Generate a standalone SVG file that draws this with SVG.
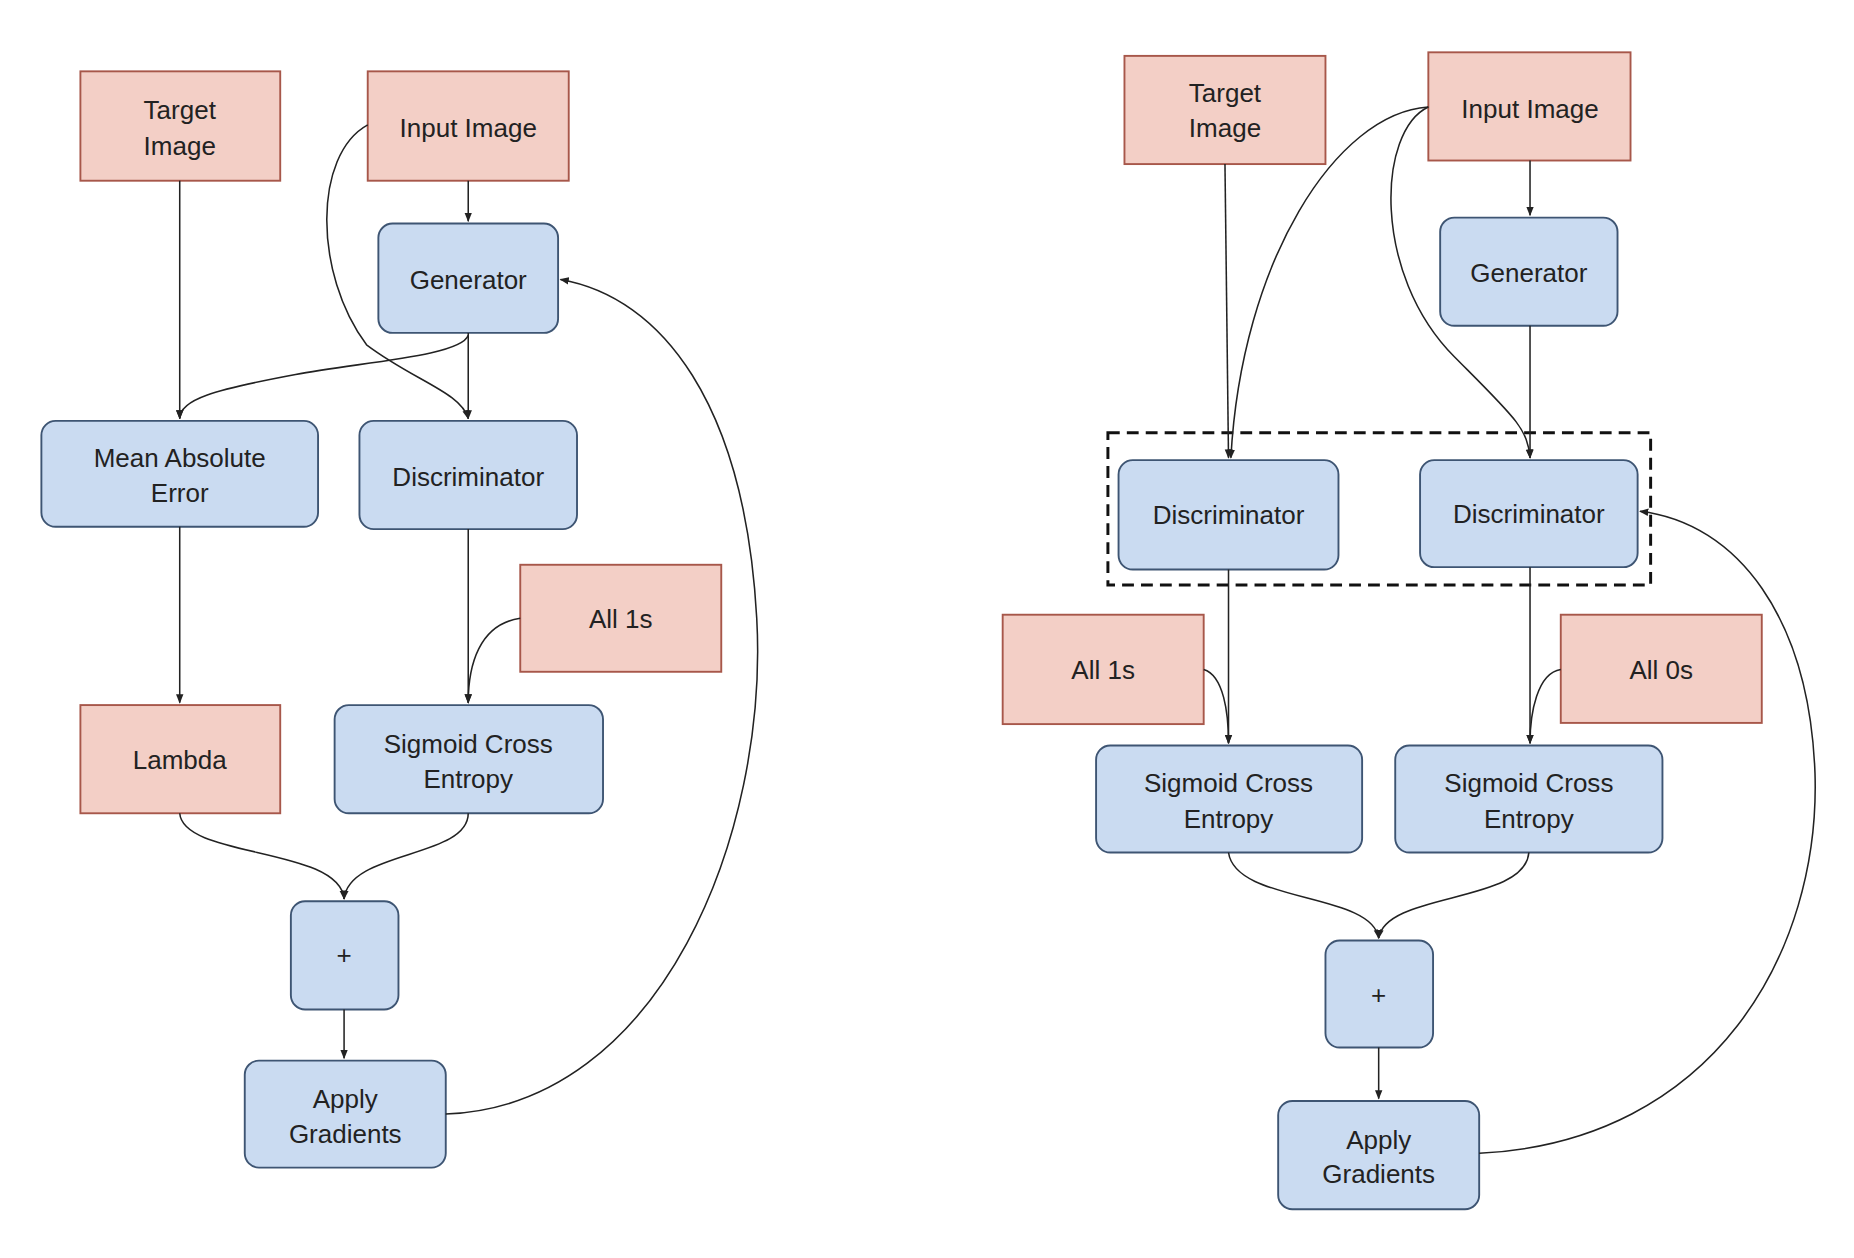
<svg xmlns="http://www.w3.org/2000/svg" width="1854" height="1258" viewBox="0 0 1854 1258">
<style>
.p{fill:#f3cfc6;stroke:#a7574a;stroke-width:1.6}
.b{fill:#cadbf1;stroke:#3e5573;stroke-width:1.6}
.t{font-family:"Liberation Sans",Arial,sans-serif;font-size:22px;fill:#222;text-anchor:middle}
.c path{fill:none;stroke:#222;stroke-width:1.3;marker-end:url(#a)}
</style>
<defs><marker id="a" viewBox="0 0 10 10" refX="9" refY="5" markerWidth="6" markerHeight="6" orient="auto"><path d="M0,1 L10,5 L0,9 z" fill="#222"/></marker></defs>
<rect width="1854" height="1258" fill="#fff"/>
<g transform="scale(1.1824,1.189)">
<g id="L_target"><rect class="p" x="68" y="60" width="169" height="92"/><text class="t" x="152" y="100">Target</text><text class="t" x="152" y="130">Image</text></g>
<g id="L_input"><rect class="p" x="311" y="60" width="170" height="92"/><text class="t" x="396" y="115">Input Image</text></g>
<g id="L_gen"><rect class="b" x="320" y="188" width="152" height="92" rx="12"/><text class="t" x="396" y="243">Generator</text></g>
<g id="L_mae"><rect class="b" x="35" y="354" width="234" height="89" rx="12"/><text class="t" x="152" y="393">Mean Absolute</text><text class="t" x="152" y="422">Error</text></g>
<g id="L_disc"><rect class="b" x="304" y="354" width="184" height="91" rx="12"/><text class="t" x="396" y="409">Discriminator</text></g>
<g id="L_all1"><rect class="p" x="440" y="475" width="170" height="90"/><text class="t" x="525" y="528">All 1s</text></g>
<g id="L_lambda"><rect class="p" x="68" y="593" width="169" height="91"/><text class="t" x="152" y="647">Lambda</text></g>
<g id="L_sce"><rect class="b" x="283" y="593" width="227" height="91" rx="12"/><text class="t" x="396" y="633">Sigmoid Cross</text><text class="t" x="396" y="663">Entropy</text></g>
<g id="L_plus"><rect class="b" x="246" y="758" width="91" height="91" rx="12"/><text class="t" x="291" y="811">+</text></g>
<g id="L_apply"><rect class="b" x="207" y="892" width="170" height="90" rx="12"/><text class="t" x="292" y="932">Apply</text><text class="t" x="292" y="961">Gradients</text></g>

<g id="R_target"><rect class="p" x="951" y="47" width="170" height="91"/><text class="t" x="1036" y="86">Target</text><text class="t" x="1036" y="115">Image</text></g>
<g id="R_input"><rect class="p" x="1208" y="44" width="171" height="91"/><text class="t" x="1294" y="99">Input Image</text></g>
<g id="R_gen"><rect class="b" x="1218" y="183" width="150" height="91" rx="12"/><text class="t" x="1293" y="237">Generator</text></g>
<rect x="937" y="364" width="459" height="128" fill="none" stroke="#111" stroke-width="2.5" stroke-dasharray="10,6"/>
<g id="R_discL"><rect class="b" x="946" y="387" width="186" height="92" rx="12"/><text class="t" x="1039" y="441">Discriminator</text></g>
<g id="R_discR"><rect class="b" x="1201" y="387" width="184" height="90" rx="12"/><text class="t" x="1293" y="440">Discriminator</text></g>
<g id="R_all1"><rect class="p" x="848" y="517" width="170" height="92"/><text class="t" x="933" y="571">All 1s</text></g>
<g id="R_all0"><rect class="p" x="1320" y="517" width="170" height="91"/><text class="t" x="1405" y="571">All 0s</text></g>
<g id="R_sceL"><rect class="b" x="927" y="627" width="225" height="90" rx="12"/><text class="t" x="1039" y="666">Sigmoid Cross</text><text class="t" x="1039" y="696">Entropy</text></g>
<g id="R_sceR"><rect class="b" x="1180" y="627" width="226" height="90" rx="12"/><text class="t" x="1293" y="666">Sigmoid Cross</text><text class="t" x="1293" y="696">Entropy</text></g>
<g id="R_plus"><rect class="b" x="1121" y="791" width="91" height="90" rx="12"/><text class="t" x="1166" y="844">+</text></g>
<g id="R_apply"><rect class="b" x="1081" y="926" width="170" height="91" rx="12"/><text class="t" x="1166" y="966">Apply</text><text class="t" x="1166" y="995">Gradients</text></g>

<g class="c" id="connectors">
<path d="M152,152 L152,352"/>
<path d="M396,152 L396,186"/>
<path d="M396,280 L396,352"/>
<path d="M396,282 C390,300 300,305 250,315 C180,328 152,336 152,352"/>
<path d="M311,105 C265,130 265,230 310,290 C350,320 390,330 396,352"/>
<path d="M396,445 L396,591"/>
<path d="M440,520 C405,525 396,560 396,591"/>
<path d="M152,443 L152,591"/>
<path d="M152,684 C155,722 287,712 291,756"/>
<path d="M396,684 C396,722 295,715 291,756"/>
<path d="M291,849 L291,890"/>
<path d="M377,937 C560,930 650,700 640,520 C630,340 560,250 474,235"/>

<path d="M1036,138 L1039,385"/>
<path d="M1208,90 C1130,95 1050,220 1041,385"/>
<path d="M1208,90 C1165,110 1160,230 1230,300 C1280,350 1292,360 1294,385"/>
<path d="M1294,135 L1294,181"/>
<path d="M1294,274 L1294,385"/>
<path d="M1039,479 L1039,625"/>
<path d="M1018,563 C1035,568 1039,600 1039,625"/>
<path d="M1294,477 L1294,625"/>
<path d="M1320,563 C1300,566 1294,600 1294,625"/>
<path d="M1039,717 C1045,760 1160,750 1166,789"/>
<path d="M1293,717 C1290,760 1172,750 1166,789"/>
<path d="M1166,881 L1166,924"/>
<path d="M1251,970 C1450,960 1540,800 1535,650 C1530,520 1470,440 1387,430"/>
</g>
</g>
</svg>
